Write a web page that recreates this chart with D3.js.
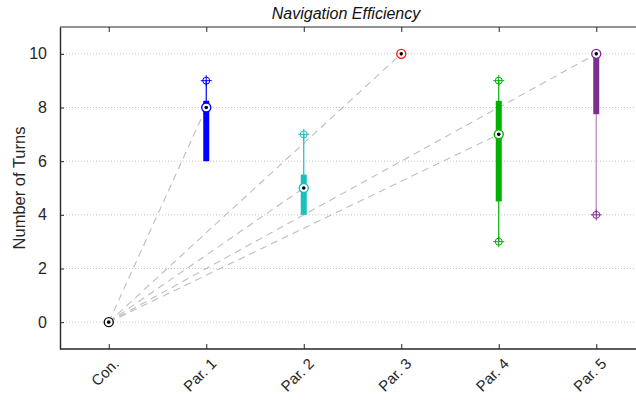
<!DOCTYPE html>
<html>
<head>
<meta charset="utf-8">
<script src="https://cdn.jsdelivr.net/npm/d3@7"></script>
<style>
  body { margin: 0; background: #fff; }
  svg { font-family: "Liberation Sans", Arial, sans-serif; }
</style>
</head>
<body>
<div id="chart"></div>
<script>
// Data
const categories = ['Con.', 'Par. 1', 'Par. 2', 'Par. 3', 'Par. 4', 'Par. 5'];
const colors = ['#111111', '#0000ff', '#1abfbf', '#ff1a1a', '#00b000', '#7e2f8e'];
const whiskerLow = [0, 6, 4, 10, 3, 4];
const q1 = [0, 6, 4, 10, 4.5, 7.75];
const medians = [0, 8, 5, 10, 7, 10];
const q3 = [0, 8.25, 5.5, 10, 8.25, 10];
const whiskerHigh = [0, 9, 7, 10, 9, 10];
const yTicks = [0, 2, 4, 6, 8, 10];

const width = 636, height = 400;
const svg = d3.select('#chart').append('svg')
  .attr('width', width).attr('height', height);

const mLeft = 60, mRight = 645, mTop = 27, mBottom = 349;

const x = d3.scaleLinear().domain([0.5, 6.5]).range([mLeft, mRight]);
const y = d3.scaleLinear().domain([-1, 11]).range([mBottom, mTop]);

// grid
svg.append('g')
  .selectAll('line')
  .data(yTicks)
  .join('line')
  .attr('x1', mLeft).attr('x2', mRight)
  .attr('y1', d => y(d)).attr('y2', d => y(d))
  .attr('stroke', '#c8c8c8')
  .attr('stroke-dasharray', '1,2');

// dashed links from control to each median
const origin = medians[0];
svg.append('g')
  .selectAll('line')
  .data(categories.slice(1))
  .join('line')
  .attr('x1', x(1)).attr('y1', y(origin))
  .attr('x2', (d, i) => x(i + 2)).attr('y2', (d, i) => y(medians[i + 1]))
  .attr('stroke', '#bdbdbd')
  .attr('stroke-width', 1.1)
  .attr('stroke-dasharray', '7,5');

// boxes
const boxes = svg.append('g')
  .selectAll('g')
  .data(categories)
  .join('g')
  .attr('transform', (d, i) => `translate(${x(i + 1)},0)`);

boxes.append('line')
  .attr('y1', (d, i) => y(whiskerLow[i]))
  .attr('y2', (d, i) => y(whiskerHigh[i]))
  .attr('stroke', (d, i) => colors[i])
  .attr('stroke-opacity', (d, i) => i === 5 ? 0.6 : 1)
  .attr('stroke-width', 1.2);

boxes.append('rect')
  .attr('x', -3)
  .attr('width', 6)
  .attr('y', (d, i) => y(q3[i]))
  .attr('height', (d, i) => y(q1[i]) - y(q3[i]))
  .attr('fill', (d, i) => colors[i]);

// whisker end markers (circle with plus)
boxes.each(function(d, i) {
  const g = d3.select(this);
  [whiskerLow[i], whiskerHigh[i]].forEach(v => {
    if (v === medians[i] || v === q1[i] || v === q3[i]) return;
    const m = g.append('g').attr('transform', `translate(0,${y(v)})`)
      .attr('stroke', colors[i]).attr('fill', 'none').attr('stroke-width', 1);
    m.append('circle').attr('r', 3.5);
    m.append('line').attr('x1', -5.5).attr('x2', 5.5);
    m.append('line').attr('y1', -5.5).attr('y2', 5.5);
  });
});

// median markers
boxes.append('circle')
  .attr('cy', (d, i) => y(medians[i]))
  .attr('r', 4.5)
  .attr('fill', '#fff')
  .attr('stroke', (d, i) => colors[i])
  .attr('stroke-width', 1.4);
boxes.append('circle')
  .attr('cy', (d, i) => y(medians[i]))
  .attr('r', 1.8)
  .attr('fill', '#000');

// axes frame
const axisColor = '#262626';
svg.append('line').attr('x1', mLeft).attr('x2', mRight).attr('y1', mTop).attr('y2', mTop)
  .attr('stroke', axisColor).attr('stroke-width', 1.2);
svg.append('line').attr('x1', mLeft).attr('x2', mRight).attr('y1', mBottom).attr('y2', mBottom)
  .attr('stroke', axisColor).attr('stroke-width', 1.4);

const yAxis = svg.append('g')
  .attr('transform', `translate(${mLeft},0)`)
  .call(d3.axisLeft(y).tickValues(yTicks).tickSizeInner(-4).tickSizeOuter(0).tickPadding(13));
yAxis.select('.domain').attr('stroke', axisColor).attr('stroke-width', 1.4);
yAxis.selectAll('.tick line').attr('stroke', axisColor);
yAxis.selectAll('text').attr('font-size', 16).attr('fill', '#262626')
  .attr('font-family', '"Liberation Sans", Arial, sans-serif');

const xTicks = categories.map((d, i) => i + 1);
const xAxisB = svg.append('g')
  .attr('transform', `translate(0,${mBottom})`)
  .call(d3.axisBottom(x).tickValues(xTicks).tickSizeInner(-5).tickSizeOuter(0)
    .tickFormat((d, i) => categories[i]));
xAxisB.select('.domain').remove();
xAxisB.selectAll('.tick line').attr('stroke', axisColor);
xAxisB.selectAll('text')
  .attr('font-size', 15)
  .attr('fill', '#262626')
  .attr('font-family', '"Liberation Sans", Arial, sans-serif')
  .attr('text-anchor', 'end')
  .attr('transform', 'translate(7,12) rotate(-45)')
  .attr('y', 0).attr('dy', '0.35em');

const xAxisT = svg.append('g')
  .attr('transform', `translate(0,${mTop})`)
  .call(d3.axisTop(x).tickValues(xTicks).tickSizeInner(-5).tickSizeOuter(0).tickFormat(''));
xAxisT.select('.domain').remove();
xAxisT.selectAll('.tick line').attr('stroke', axisColor);

// title and label
svg.append('text')
  .attr('x', 346).attr('y', 19)
  .attr('text-anchor', 'middle')
  .attr('font-size', 16)
  .attr('font-style', 'italic')
  .attr('fill', '#111')
  .text('Navigation Efficiency');

svg.append('text')
  .attr('transform', `translate(25,${(mTop + mBottom) / 2}) rotate(-90)`)
  .attr('text-anchor', 'middle')
  .attr('font-size', 16.5)
  .attr('fill', '#262626')
  .text('Number of Turns');
</script>
</body>
</html>
